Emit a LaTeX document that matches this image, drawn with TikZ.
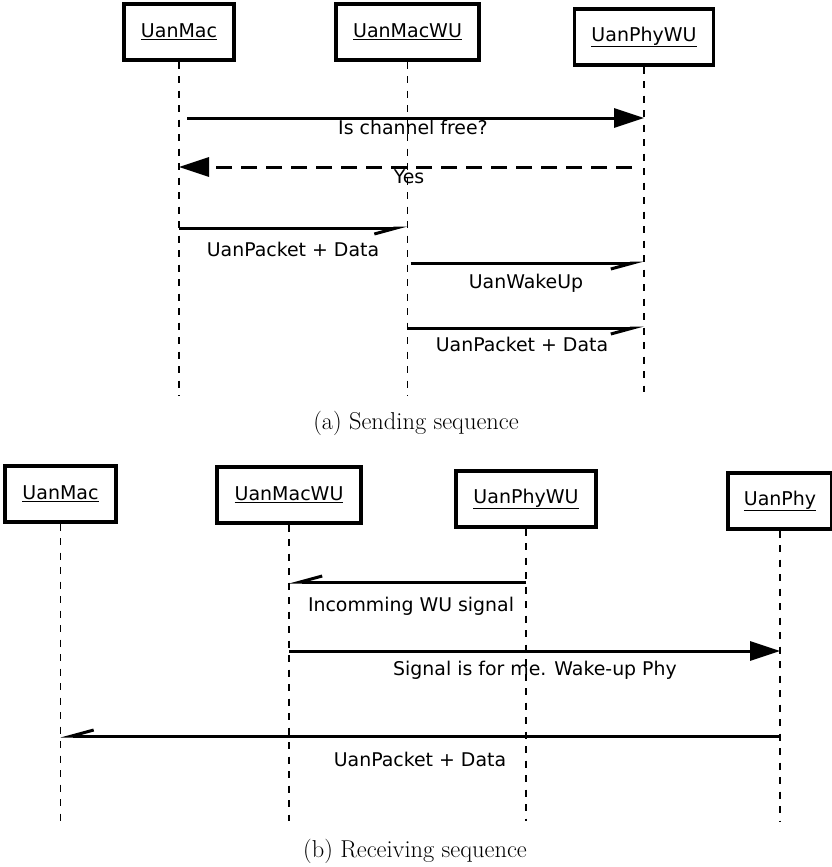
\documentclass[tikz,border=0pt]{standalone}
\usepackage{fontspec}
\newfontfamily\dejavu{DejaVu Sans}
\usetikzlibrary{arrows.meta}
\begin{document}
\begin{tikzpicture}[x=1pt,y=-1pt,
  obj/.style={draw, line width=3.4pt, fill=white, minimum height=56pt, inner sep=0pt,
    font=\dejavu\fontsize{19}{22}\selectfont},
  life/.style={line width=1.3pt, dash pattern=on 7pt off 7.5pt},
  msg/.style={line width=3pt},
  full/.style={msg, -{Triangle[length=30pt,width=19pt]}},
  half/.style={msg, -{Straight Barb[harpoon,swap,length=22pt,width=12pt]}},
  reply/.style={full, dash pattern=on 16pt off 9pt},
  lbl/.style={anchor=base, inner sep=0pt, font=\dejavu\fontsize{18.9}{22}\selectfont},
  captext/.style={anchor=base, inner sep=0pt, font=\fontsize{24.4}{29}\selectfont}
]
\useasboundingbox (0,0) rectangle (831,867);

% ---------- (a) sending sequence ----------
\coordinate (aend) at (0,396);
\coordinate (ar1) at (0,118);
\coordinate (ar2) at (0,167);
\coordinate (ar3) at (0,228);
\coordinate (ar4) at (0,263);
\coordinate (ar5) at (0,328);

\node[obj, minimum width=110pt] (tmac)   at (179,32)   {\underline{UanMac}};
\node[obj, minimum width=143pt] (tmacwu) at (407.5,32) {\underline{UanMacWU}};
\node[obj, minimum width=139pt] (tphywu) at (644,37)   {\underline{UanPhyWU}};

\draw[life] (tmac.south)   -- (tmac.south |- aend);
\draw[life] (tmacwu.south) -- (tmacwu.south |- aend);
\draw[life] (tphywu.south) -- ([yshift=4pt]tphywu.south |- aend);

\draw[full, shorten <=8pt] (tmac.south |- ar1) -- (tphywu.south |- ar1);
\node[lbl] (la1) at (413,134) {Is channel free?};

\draw[reply, shorten <=12pt] (tphywu.south |- ar2) -- (tmac.south |- ar2);
\node[lbl] (la2) at (409,183) {Yes};

\draw[half] (tmac.south |- ar3) -- (tmacwu.south |- ar3);
\node[lbl] (la3) at (293,256) {UanPacket + Data};

\draw[half, shorten <=3pt] (tmacwu.south |- ar4) -- (tphywu.south |- ar4);
\node[lbl] (la4) at (526,288) {UanWakeUp};

\draw[half] (tmacwu.south |- ar5) -- (tphywu.south |- ar5);
\node[lbl] (la5) at (522,351) {UanPacket + Data};

\node[captext] (capa) at (416,429) {(a) Sending sequence};

% ---------- (b) receiving sequence ----------
\coordinate (bend) at (0,821);
\coordinate (br1) at (0,582);
\coordinate (br2) at (0,651);
\coordinate (br3) at (0,736);

\node[obj, minimum width=111pt] (bmac)   at (60.5,494) {\underline{UanMac}};
\node[obj, minimum width=144pt] (bmacwu) at (289,495)  {\underline{UanMacWU}};
\node[obj, minimum width=140pt] (bphywu) at (526,499)  {\underline{UanPhyWU}};
\node[obj, minimum width=104pt] (bphy)   at (780,501)  {\underline{UanPhy}};

\draw[life] (bmac.south)   -- (bmac.south |- bend);
\draw[life] (bmacwu.south) -- (bmacwu.south |- bend);
\draw[life] (bphywu.south) -- (bphywu.south |- bend);
\draw[life] (bphy.south)   -- (bphy.south |- bend);

\draw[half] (bphywu.south |- br1) -- (bmacwu.south |- br1);
\node[lbl] (lb1) at (411,611) {Incomming WU signal};

\draw[full] (bmacwu.south |- br2) -- (bphy.south |- br2);
\node[lbl] (lb2) at (535,675) {Signal is for me. Wake-up Phy};

\draw[half] (bphy.south |- br3) -- (bmac.south |- br3);
\node[lbl] (lb3) at (420,766) {UanPacket + Data};

\node[captext] (capb) at (415,857) {(b) Receiving sequence};
\end{tikzpicture}
\end{document}
